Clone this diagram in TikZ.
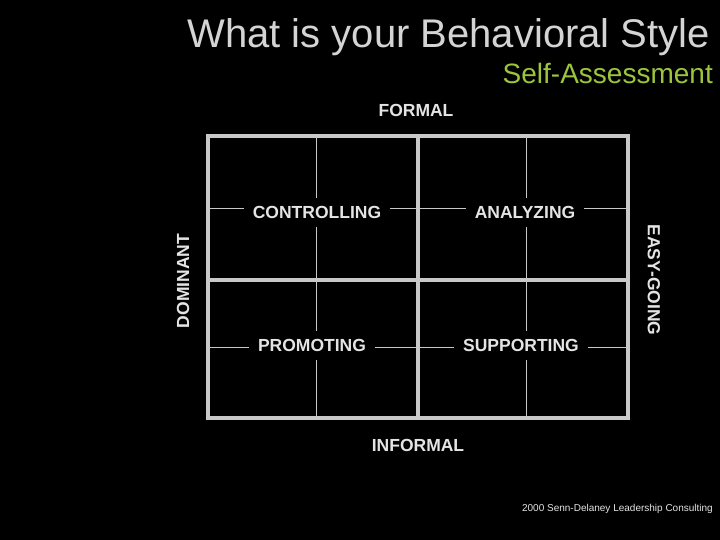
\documentclass[tikz,border=0pt]{standalone}
\usepackage{fontspec}
\setmainfont{Liberation Sans}
\definecolor{gridgray}{HTML}{C8C8C8}
\definecolor{labgray}{HTML}{E4E4E4}
\definecolor{titlegray}{HTML}{D4D4D4}
\definecolor{subgreen}{HTML}{9CC43C}
\begin{document}
\begin{tikzpicture}[x=1pt,y=-1pt,
  gridline/.style={draw=gridgray, line width=3.5pt},
  fine/.style={draw=gridgray, line width=1pt},
  lab/.style={font=\bfseries\fontsize{17.5}{20}\selectfont, text=labgray,
    inner xsep=8.5pt, inner ysep=8pt, text height=12.5pt, text depth=0pt},
  axis/.style={font=\bfseries\fontsize{17.5}{20}\selectfont, text=labgray, inner sep=0pt},
]
\fill[black] (0,0) rectangle (720,540);
\useasboundingbox (0,0) rectangle (720,540);

% titles
\node[anchor=base east, font=\fontsize{40}{48}\selectfont, text=titlegray, inner sep=0pt] (title) at (710,48) {What is your Behavioral Style};
\node[anchor=base east, font=\fontsize{28}{34}\selectfont, text=subgreen, inner sep=0pt] (sub) at (713,84) {Self-Assessment};

% axis labels
\node[axis, anchor=base] (formal) at (416,116.5) {FORMAL};
\node[axis, anchor=base] (informal) at (418,451) {INFORMAL};
\node[axis, rotate=90] (dominant) at (183,281) {DOMINANT};
\node[axis, rotate=-90] (easy) at (654,280) {EASY-GOING};

% quadrant labels
\node[lab] (ctl) at (317,212.5) {CONTROLLING};
\node[lab] (ana) at (525,212.5) {ANALYZING};
\node[lab] (pro) at (312,345.5) {PROMOTING};
\node[lab] (sup) at (521,345.5) {SUPPORTING};

% coordinates
\coordinate (tl) at (208,136);
\coordinate (br) at (628,418);
\coordinate (midtop) at (418,136);
\coordinate (midbot) at (418,418);
\coordinate (midl) at (208,280);
\coordinate (midr) at (628,280);
\coordinate (v1t) at (316,136);
\coordinate (v1m) at (316,280);
\coordinate (v1b) at (316,418);
\coordinate (v2t) at (526,136);
\coordinate (v2m) at (526,280);
\coordinate (v2b) at (526,418);
\coordinate (h1l) at (208,209);
\coordinate (h1m) at (418,209);
\coordinate (h1r) at (628,209);
\coordinate (h2l) at (208,347);
\coordinate (h2m) at (418,347);
\coordinate (h2r) at (628,347);

% thin lines
\draw[fine] (v1t) -- (v1t |- ctl.north);
\draw[fine] (ctl.south -| v1t) -- (v1m);
\draw[fine] (v1m) -- (v1m |- pro.north);
\draw[fine] (pro.south -| v1m) -- (v1b);
\draw[fine] (v2t) -- (v2t |- ana.north);
\draw[fine] (ana.south -| v2t) -- (v2m);
\draw[fine] (v2m) -- (v2m |- sup.north);
\draw[fine] (sup.south -| v2m) -- (v2b);

\draw[fine] (h1l) -- (h1l -| ctl.west);
\draw[fine] (ctl.east |- h1l) -- (h1m);
\draw[fine] (h1m) -- (h1m -| ana.west);
\draw[fine] (ana.east |- h1m) -- (h1r);
\draw[fine] (h2l) -- (h2l -| pro.west);
\draw[fine] (pro.east |- h2l) -- (h2m);
\draw[fine] (h2m) -- (h2m -| sup.west);
\draw[fine] (sup.east |- h2m) -- (h2r);

% thick grid
\draw[gridline] (tl) rectangle (br);
\draw[gridline] (midtop) -- (midbot);
\draw[gridline] (midl) -- (midr);

% footer
\node[anchor=base east, font=\fontsize{10}{12}\selectfont, text=labgray, inner sep=0pt] (footer) at (713,511) {2000 Senn-Delaney Leadership Consulting};
\end{tikzpicture}
\end{document}
